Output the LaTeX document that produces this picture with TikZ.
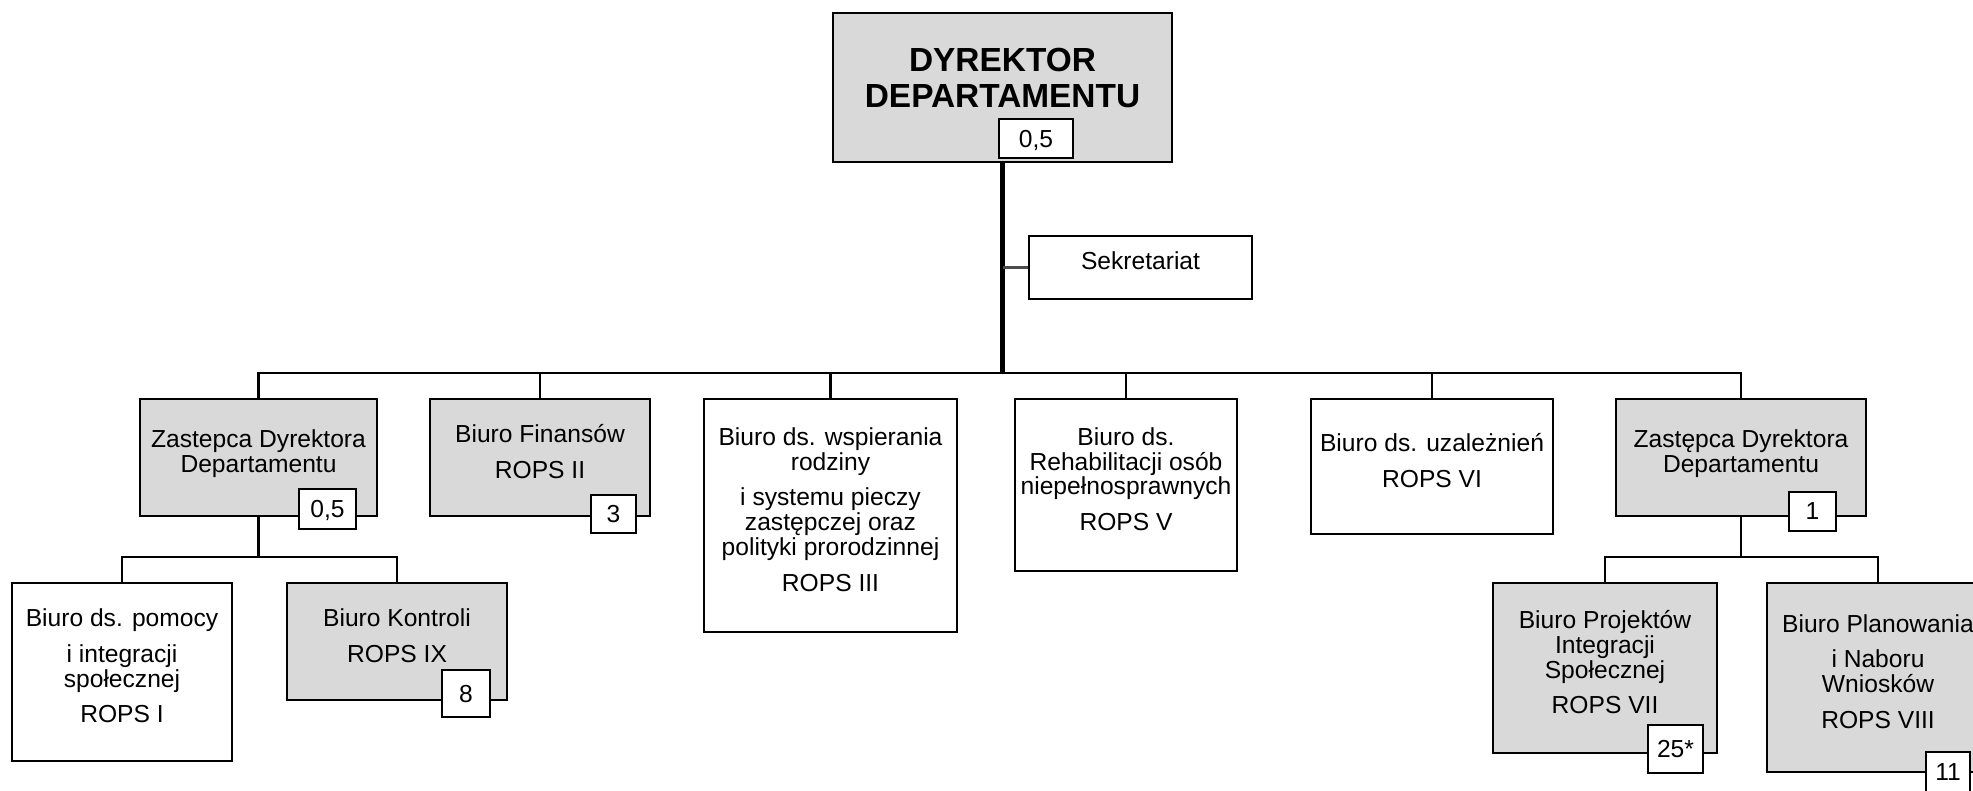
\documentclass[tikz,border=0pt]{standalone}
\usepackage{fontspec}
\setmainfont{Liberation Sans}
\definecolor{boxgray}{RGB}{217,217,217}
\tikzset{
  unit/.style={draw,line width=0.6pt,align=center,inner sep=0pt,text depth=3.5pt,
    font=\fontsize{7}{7.1}\selectfont},
  shaded/.style={unit,fill=boxgray},
  plain/.style={unit,fill=white},
  num/.style={draw,line width=0.6pt,fill=white,inner sep=0pt,text depth=0pt,
    font=\fontsize{7}{8}\selectfont},
  link/.style={line width=0.7pt},
}
\begin{document}
\begin{tikzpicture}[x=0.01cm,y=-0.01cm]
  \useasboundingbox (0,0) rectangle (1973,790);
  \clip (0,0) rectangle (1973,790);
  % kierownictwo
  \node[shaded,minimum width=3.39cm,minimum height=1.49cm,text depth=5.4pt,
    font=\bfseries\fontsize{9.5}{10.2}\selectfont] (dir) at (1002.5,87.5) {DYREKTOR\\DEPARTAMENTU};
  \node[plain,minimum width=2.23cm,minimum height=0.63cm,text depth=4pt] (sek) at (1140.5,267.5) {Sekretariat};
  % pierwszy poziom
  \node[shaded,minimum width=2.37cm,minimum height=1.17cm] (zl) at (258.5,457.5) {Zastepca Dyrektora\\Departamentu};
  \node[shaded,minimum width=2.20cm,minimum height=1.17cm] (fin) at (540,457.5) {Biuro Finansów\\[3pt]ROPS II};
  \node[plain,minimum width=2.53cm,minimum height=2.33cm] (wsp) at (830.5,515.5)
    {Biuro ds. wspierania\\rodziny\\[3pt]i systemu pieczy\\zastępczej oraz\\polityki prorodzinnej\\[3pt]ROPS III};
  \node[plain,minimum width=2.22cm,minimum height=1.72cm] (reh) at (1126,485)
    {Biuro ds.\\Rehabilitacji osób\\niepełnosprawnych\\[3pt]ROPS V};
  \node[plain,minimum width=2.42cm,minimum height=1.35cm] (uza) at (1432,466.5) {Biuro ds. uzależnień\\[3pt]ROPS VI};
  \node[shaded,minimum width=2.50cm,minimum height=1.17cm] (zr) at (1741,457.5) {Zastępca Dyrektora\\Departamentu};
  % drugi poziom
  \node[plain,minimum width=2.20cm,minimum height=1.78cm] (pom) at (122,672)
    {Biuro ds. pomocy\\[3pt]i integracji\\społecznej\\[3pt]ROPS I};
  \node[shaded,minimum width=2.20cm,minimum height=1.17cm] (kon) at (397,641.5) {Biuro Kontroli\\[3pt]ROPS IX};
  \node[shaded,minimum width=2.24cm,minimum height=1.70cm] (pro) at (1605,668)
    {Biuro Projektów\\Integracji\\Społecznej\\[3pt]ROPS VII};
  \node[shaded,minimum width=2.22cm,minimum height=1.89cm] (pla) at (1878,677.5)
    {Biuro Planowania\\[3pt]i Naboru\\Wniosków\\[3pt]ROPS VIII};
  % linie
  \coordinate (bus) at (1002.5,373);
  \coordinate (lbus) at (258.5,557);
  \coordinate (rbus) at (1741,557);
  \draw[line width=1.2pt] (dir.south) -- (bus);
  \draw[line width=0.6pt,gray!60!black] (sek.west) -- (sek.west -| bus);
  \draw[link] (zl.north) |- (bus) -| (zr.north);
  \draw[link] (fin.north) -- (fin.north |- bus);
  \draw[link] (wsp.north) -- (wsp.north |- bus);
  \draw[link] (reh.north) -- (reh.north |- bus);
  \draw[link] (uza.north) -- (uza.north |- bus);
  \draw[link] (zl.south) -- (lbus);
  \draw[link] (pom.north) |- (lbus) -| (kon.north);
  \draw[link] (zr.south) -- (rbus);
  \draw[link] (pro.north) |- (rbus) -| (pla.north);
  % etaty
  \node[num,minimum width=0.74cm,minimum height=0.39cm] (dir-n) at (1036,138.5) {0,5};
  \node[num,minimum width=0.57cm,minimum height=0.40cm] (zl-n) at (327.5,509) {0,5};
  \node[num,minimum width=0.45cm,minimum height=0.38cm] (fin-n) at (613.5,514) {3};
  \node[num,minimum width=0.47cm,minimum height=0.39cm] (zr-n) at (1812.5,511.5) {1};
  \node[num,minimum width=0.48cm,minimum height=0.47cm] (kon-n) at (466,693.5) {8};
  \node[num,minimum width=0.55cm,minimum height=0.48cm] (pro-n) at (1675.5,749) {25*};
  \node[num,minimum width=0.44cm,minimum height=0.40cm] (pla-n) at (1948,772) {11};
\end{tikzpicture}
\end{document}
